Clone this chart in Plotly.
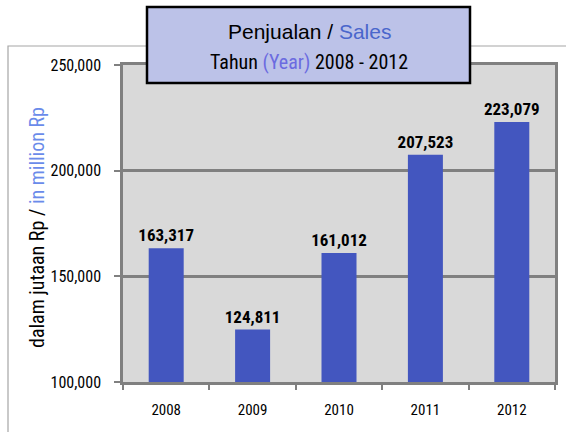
import plotly.graph_objects as go

years = ["2008", "2009", "2010", "2011", "2012"]
sales = [163317, 124811, 161012, 207523, 223079]
y_ticks = [100000, 150000, 200000, 250000]
y_tick_labels = ["100,000", "150,000", "200,000", "250,000"]

W, H = 566, 432
ML, MR, MT, MB = 123, 11, 65, 50
PW, PH = W - ML - MR, H - MT - MB

def px(x):
    return (x - ML) / PW

def py(y):
    return (H - MB - y) / PH

NARROW = "Roboto Condensed, Liberation Sans Narrow, sans-serif"
ARIAL = "Liberation Sans, Arial, sans-serif"
GRID = "#808080"

fig = go.Figure()
fig.add_trace(go.Bar(
    x=years, y=sales,
    marker=dict(color="#4356BF", line=dict(width=0)),
    texttemplate="%{y:,.0f}", textposition="outside",
    textfont=dict(family=NARROW, size=17, color="#000000", weight="bold"),
    constraintext="none",
    cliponaxis=False,
    hoverinfo="skip",
))

fig.update_layout(
    width=W, height=H,
    margin=dict(l=ML, r=MR, t=MT, b=MB, pad=0, autoexpand=False),
    paper_bgcolor="#FFFFFF",
    plot_bgcolor="#D9D9D9",
    bargap=0.595,
    showlegend=False,
    xaxis=dict(
        type="category", automargin=False,
        showgrid=False,
        showline=True, linecolor=GRID, linewidth=2.5, mirror=True,
        ticks="outside", tickson="boundaries", ticklen=5, tickwidth=2, tickcolor=GRID,
        tickfont=dict(family=NARROW, size=15, color="#000000"),
        ticklabelstandoff=12,
    ),
    yaxis=dict(
        range=[100000, 250000], automargin=False,
        tickvals=y_ticks, ticktext=y_tick_labels,
        showgrid=True, gridcolor=GRID, gridwidth=2.5,
        showline=True, linecolor=GRID, linewidth=2.5, mirror=True,
        ticks="outside", ticklen=6, tickwidth=2, tickcolor=GRID,
        tickfont=dict(family=NARROW, size=16, color="#000000"),
        ticklabelstandoff=10,
        zeroline=False,
    ),
    shapes=[
        dict(type="rect", xref="paper", yref="paper",
             x0=px(8), x1=px(W + 20), y0=py(H + 20), y1=py(46),
             line=dict(color="#A6A6A6", width=1.2), fillcolor="rgba(0,0,0,0)",
             layer="below"),
        dict(type="rect", xref="paper", yref="paper",
             x0=px(147), x1=px(470), y0=py(83), y1=py(7),
             line=dict(color="#000000", width=2.5), fillcolor="#BCC2E8",
             layer="above"),
    ],
    annotations=[
        dict(xref="paper", yref="paper", x=px(309), y=py(32),
             xanchor="center", yanchor="middle", showarrow=False,
             text="Penjualan / <span style='color:#4A66CC'>Sales</span>",
             font=dict(family=ARIAL, size=21, color="#000000")),
        dict(xref="paper", yref="paper", x=px(309), y=py(62),
             xanchor="center", yanchor="middle", showarrow=False,
             text="Tahun <span style='color:#6B6BE0'>(Year)</span> 2008 - 2012",
             font=dict(family=NARROW, size=20, color="#000000")),
        dict(xref="paper", yref="paper", x=px(37), y=py(228),
             xanchor="center", yanchor="middle", showarrow=False, textangle=-90,
             text="dalam jutaan Rp / <span style='color:#6A8BEA'>in million Rp</span>",
             font=dict(family=NARROW, size=20, color="#000000")),
    ],
)

fig.write_html("out.html", config={"displayModeBar": False},
               post_script="document.body.style.margin='0';")
